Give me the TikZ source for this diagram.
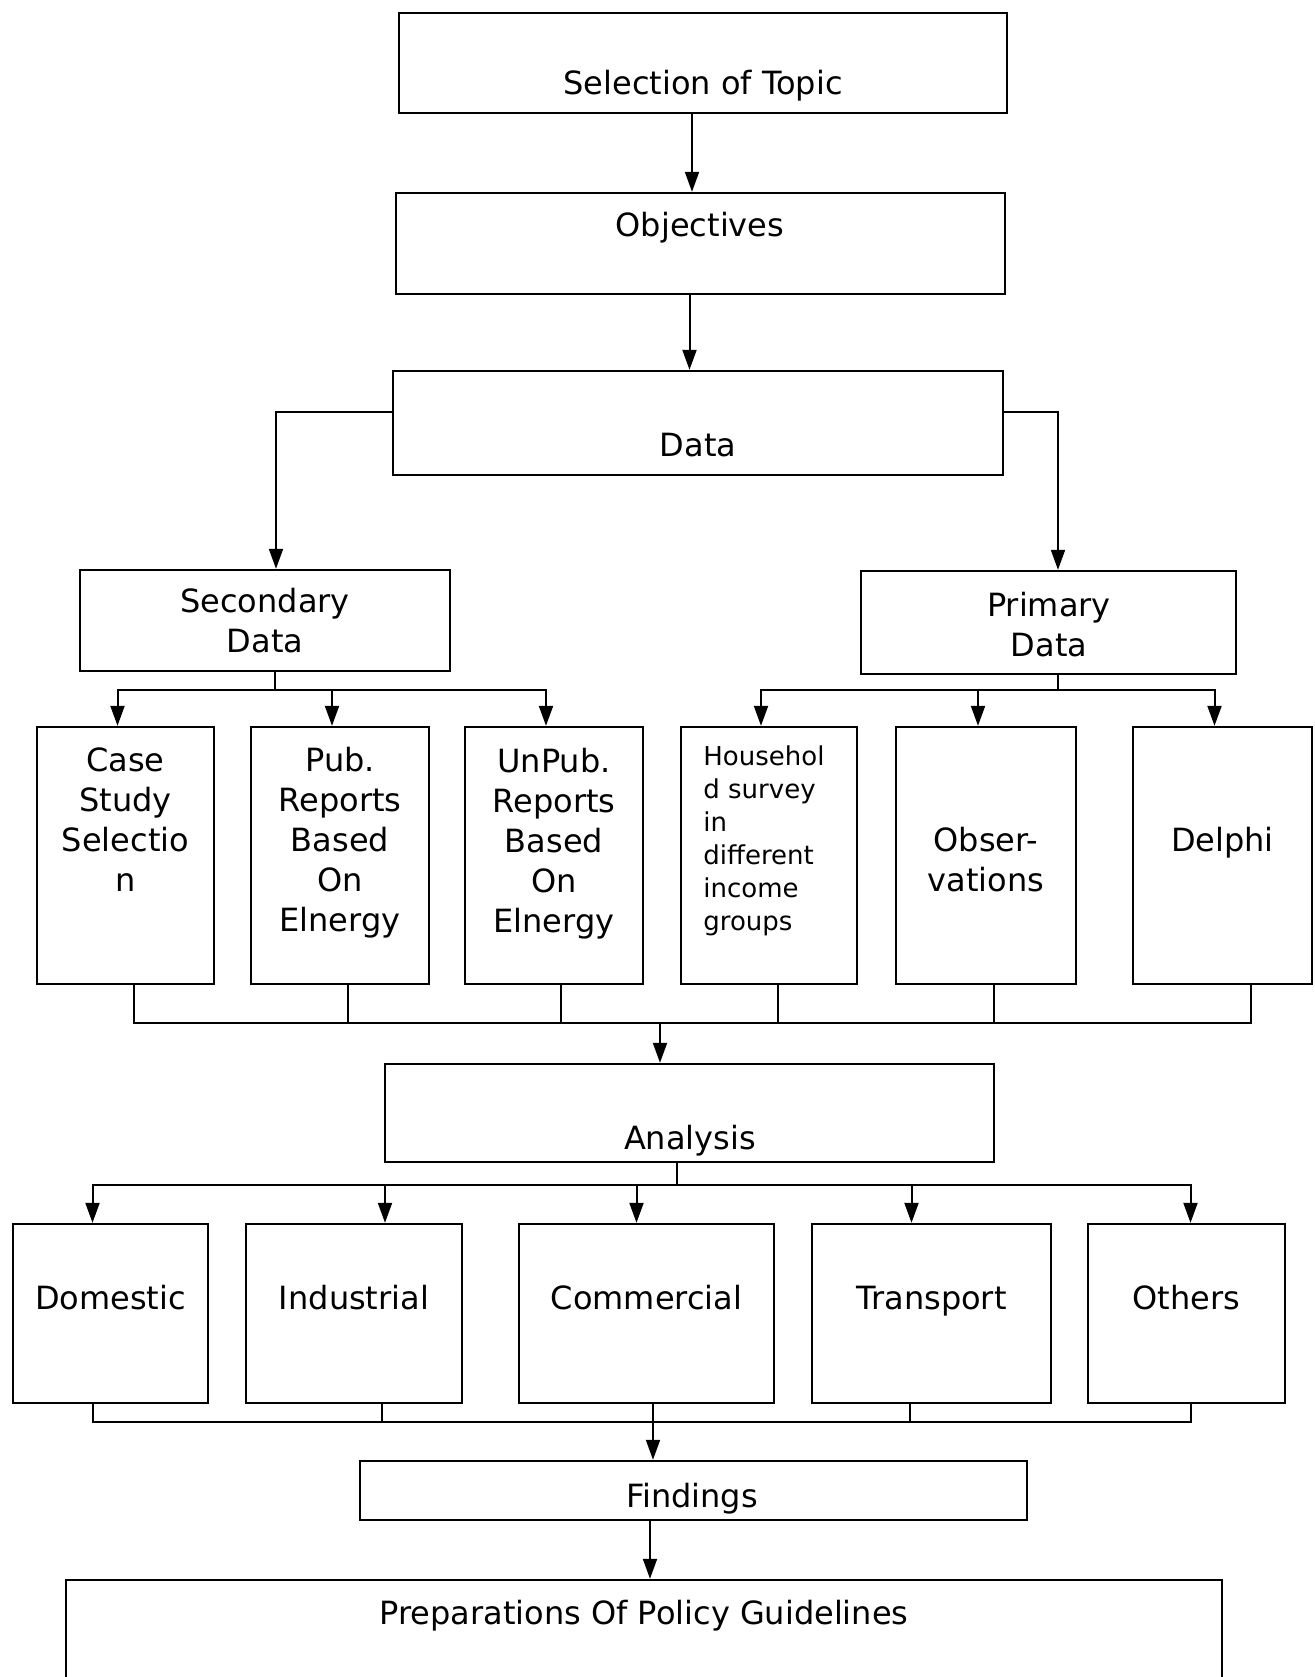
\documentclass[tikz,border=0pt]{standalone}
\usepackage{fontspec}
\setmainfont{DejaVu Sans}
\usetikzlibrary{arrows.meta, fit}

\tikzset{
  box/.style={draw, line width=1.2pt, inner sep=0pt},
  lbl/.style={font=\fontsize{16}{20}\selectfont, align=center, inner sep=0pt},
  smalllbl/.style={font=\fontsize{13}{16.5}\selectfont, align=left, inner sep=0pt},
  arr/.style={-{Triangle[length=10pt,width=7pt]}, line width=1pt},
  wire/.style={line width=1pt},
}

\begin{document}
\begin{tikzpicture}[x=0.5pt, y=-0.5pt]
\clip (0,0) rectangle (1315,1677);
\fill[white] (0,0) rectangle (1315,1677);

% main column
\node[box, fit={(399,13) (1007,113)}] (topic) {};
\node[lbl] (topic-t) at (703,86) {Selection of Topic};
\node[box, fit={(396,193) (1005,294)}] (obj) {};
\node[lbl] (obj-t) at (700,228) {Objectives};
\node[box, fit={(393,371) (1003,475)}] (data) {};
\node[lbl] (data-t) at (698,445) {Data};

% data sources
\node[box, fit={(80,570) (450,671)}] (sec) {};
\node[lbl] (sec-t) at (265,621) {Secondary\\Data};
\node[box, fit={(861,571) (1236,674)}] (prim) {};
\node[lbl] (prim-t) at (1049,625) {Primary\\Data};

\foreach \n/\a/\b/\ty/\t in {case/37/214/820/{Case\\Study\\Selectio\\n},
    pub/251/429/843/{Pub.\\Reports\\Based\\On\\Elnergy},
    unpub/465/643/844/{UnPub.\\Reports\\Based\\On\\Elnergy},
    obs/896/1076/860/{Obser-\\vations},
    delphi/1133/1312/843/{Delphi}}
{
  \node[box, fit={(\a,727) (\b,984)}] (\n) {};
  \node[lbl] (\n-t) at (\n.center |- 0,\ty) {\t};
}
\node[box, fit={(681,727) (857,984)}] (house) {};
\node[smalllbl, anchor=north west] (house-t) at (703,745)
  {Househol\\d survey\\in\\different\\income\\groups};

% analysis and sectors
\node[box, fit={(385,1064) (994,1162)}] (analysis) {};
\node[lbl] (analysis-t) at (690,1141) {Analysis};

\foreach \n/\a/\b/\t in {dom/13/208/Domestic, ind/246/462/Industrial,
    com/519/774/Commercial, tra/812/1051/Transport, oth/1088/1285/Others}
{
  \node[box, fit={(\a,1224) (\b,1403)}] (\n) {};
  \node[lbl, anchor=base] (\n-t) at (\n.center |- 0,1309) {\t};
}

\node[box, fit={(360,1461) (1027,1520)}] (findings) {};
\node[lbl] (findings-t) at (692,1499) {Findings};
\node[box, fit={(66,1580) (1222,1720)}] (prep) {};
\node[lbl] (prep-t) at (644,1616) {Preparations Of Policy Guidelines};

% connectors
\draw[arr] ([xshift=-5.5pt]topic.south) -- ([xshift=-5.5pt]topic.south |- obj.north);
\draw[arr] ([xshift=-5.5pt]obj.south) -- ([xshift=-5.5pt]obj.south |- data.north);
\draw[arr] ([yshift=5.5pt]data.west) -| ([xshift=5.5pt]sec.north);
\draw[arr] ([yshift=5.5pt]data.east) -| ([xshift=4.75pt]prim.north);

\coordinate (sb) at (275,690);
\draw[wire] (sec.south -| sb) -- (sb);
\foreach \c in {case,pub,unpub}
  \draw[arr] (sb) -| ([xshift=-4pt]\c.north);
\coordinate (pb) at (1058,690);
\draw[wire] (prim.south -| pb) -- (pb);
\foreach \c in {house,obs,delphi}
  \draw[arr] (pb) -| ([xshift=-4pt]\c.north);

\coordinate (mb) at (660,1023);
\foreach \c/\d in {case/4, pub/4, unpub/3.5, house/4.5, obs/4, delphi/14}
  \draw[wire] ([xshift=\d pt]\c.south) |- (mb);
\draw[arr] (mb) -- (mb |- analysis.north);

\coordinate (ab) at (677,1185);
\draw[wire] (analysis.south -| ab) -- (ab);
\foreach \c/\d in {dom/-9, ind/15.5, com/-5, tra/-10, oth/2}
  \draw[arr] (ab) -| ([xshift=\d pt]\c.north);

\coordinate (fb) at (653,1422);
\foreach \c/\d in {dom/-9, ind/14, com/3, tra/-11, oth/2}
  \draw[wire] ([xshift=\d pt]\c.south) |- (fb);
\draw[arr] (fb) -- (fb |- findings.north);
\draw[arr] ([xshift=3pt]findings.south -| prep.north) -- ([xshift=3pt]prep.north);
\end{tikzpicture}
\end{document}
